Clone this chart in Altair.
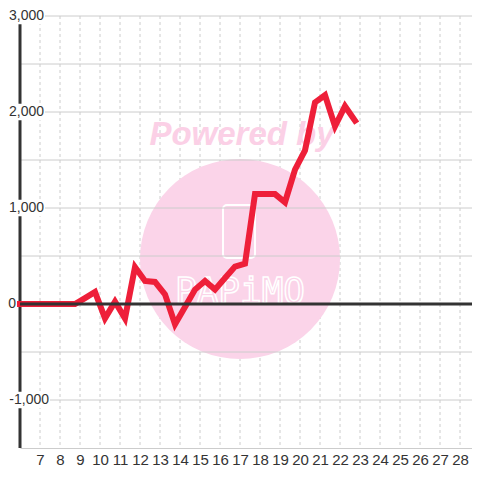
import altair as alt
import pandas as pd

# ---- data ----
days = [6.0, 6.75, 7.25, 7.75, 8.25, 8.75, 9.25, 9.75, 10.25, 10.75, 11.25, 11.75,
        12.25, 12.75, 13.25, 13.75, 14.25, 14.75, 15.25, 15.75, 16.25, 16.75, 17.25,
        17.75, 18.25, 18.75, 19.25, 19.75, 20.25, 20.75, 21.25, 21.75, 22.25, 22.75]
values = [0, 0, 0, 0, 0, 0, 62, 125, -150, 25, -150, 385,
          240, 230, 100, -210, -30, 150, 240, 150, 270, 390, 420,
          1145, 1145, 1145, 1060, 1400, 1600, 2100, 2175, 1850, 2060, 1910]
x_ticks = list(range(7, 29))
y_ticks = [1000, 2000, 3000]
y_tick_labels = ["1,000", "2,000", "3,000"]
neg_tick = [-1000]
neg_label = ["-1,000"]
zero_label = ["0"]
y_grid = [-1000, -500, 500, 1000, 1500, 2000, 2500, 3000]

FONT = "Liberation Sans"
GRID = "#cccccc"
DARK = "#333333"
RED = "#ee1f39"
PINK = "#fbd4e9"

xs = alt.Scale(domain=[6, 28.6], nice=False, zero=False)
ys = alt.Scale(domain=[-1500, 3000], nice=False, zero=False)
x_axis = alt.Axis(
    values=x_ticks, grid=False, ticks=False, domainColor=GRID, domainWidth=1,
    labelFontSize=15, labelColor=DARK, labelFont=FONT, labelPadding=4,
    labelFlush=False, title=None)

line_df = pd.DataFrame({"day": days, "val": values})
one = pd.DataFrame({"a": [0]})
xgrid_df = pd.DataFrame({"day": x_ticks})
ygrid_df = pd.DataFrame({"v": y_grid})
ylab_df = pd.DataFrame({"v": y_ticks, "lab": y_tick_labels})
neg_df = pd.DataFrame({"v": neg_tick, "lab": neg_label})
zero_df = pd.DataFrame({"v": [0], "lab": zero_label})

# watermark
circle = alt.Chart(one).mark_circle(size=40000, color=PINK, opacity=1).encode(
    x=alt.value(220), y=alt.value(243))
powered = alt.Chart(one).mark_text(
    text="Powered by", font=FONT, fontSize=33, fontWeight="bold", fontStyle="italic",
    color="#fbd0e6", align="center", baseline="alphabetic").encode(
    x=alt.value(222), y=alt.value(129))
logo_box = alt.Chart(one).mark_rect(
    filled=False, stroke="white", strokeWidth=2, cornerRadius=4).encode(
    x=alt.value(203), x2=alt.value(235), y=alt.value(189), y2=alt.value(242))
logo_text = alt.Chart(one).mark_text(
    text="PAPiMO", font="DejaVu Sans Mono", fontSize=36, fillOpacity=0,
    stroke="white", strokeWidth=1.5, align="center", baseline="middle").encode(
    x=alt.value(220), y=alt.value(276))

# grids
vgrid = alt.Chart(xgrid_df).mark_rule(color=GRID, strokeDash=[3, 3], strokeWidth=1).encode(
    x=alt.X("day:Q", scale=xs, axis=x_axis))
hgrid = alt.Chart(ygrid_df).mark_rule(color=GRID, strokeWidth=1).encode(
    y=alt.Y("v:Q", scale=ys, axis=None))
zero_line = alt.Chart(zero_df).mark_rule(color=DARK, strokeWidth=3).encode(
    y=alt.Y("v:Q", scale=ys, axis=None))
y_axis_line = alt.Chart(one).mark_rule(color=DARK, strokeWidth=3).encode(
    x=alt.value(0))

line = alt.Chart(line_df).mark_line(
    color=RED, strokeWidth=6, strokeCap="square", strokeJoin="miter").encode(
    x=alt.X("day:Q", scale=xs, axis=x_axis),
    y=alt.Y("val:Q", scale=ys, axis=None))

def label_layers(df, right):
    bg = alt.Chart(df).transform_calculate(
        lo="datum.v - 85", hi="datum.v + 85").mark_rect(color="white").encode(
        x=alt.value(-12), x2=alt.value(right + 1),
        y=alt.Y("lo:Q", scale=ys, axis=None), y2="hi:Q")
    txt = alt.Chart(df).mark_text(
        align="right", baseline="middle", fontSize=14, font=FONT, color=DARK).encode(
        x=alt.value(right), y=alt.Y("v:Q", scale=ys, axis=None), text="lab:N")
    return bg, txt

bg1, lab1 = label_layers(ylab_df, 24)
bg2, lab2 = label_layers(neg_df, 29)
zlabel = alt.Chart(zero_df).mark_text(
    align="right", baseline="middle", fontSize=14, font=FONT, color=DARK).encode(
    x=alt.value(-4), y=alt.Y("v:Q", scale=ys, axis=None), text="lab:N")

chart = alt.layer(
    vgrid, circle, powered, logo_box, logo_text, hgrid, y_axis_line,
    line, zero_line, bg1, bg2, lab1, lab2, zlabel
).properties(
    width=452, height=432,
    padding={"left": 12, "top": 8, "right": 0, "bottom": 24},
    autosize=alt.AutoSizeParams(type="none"),
    background="white",
).configure_view(stroke=None)

chart.save("out.html", embed_options={"renderer": "svg", "actions": False})
